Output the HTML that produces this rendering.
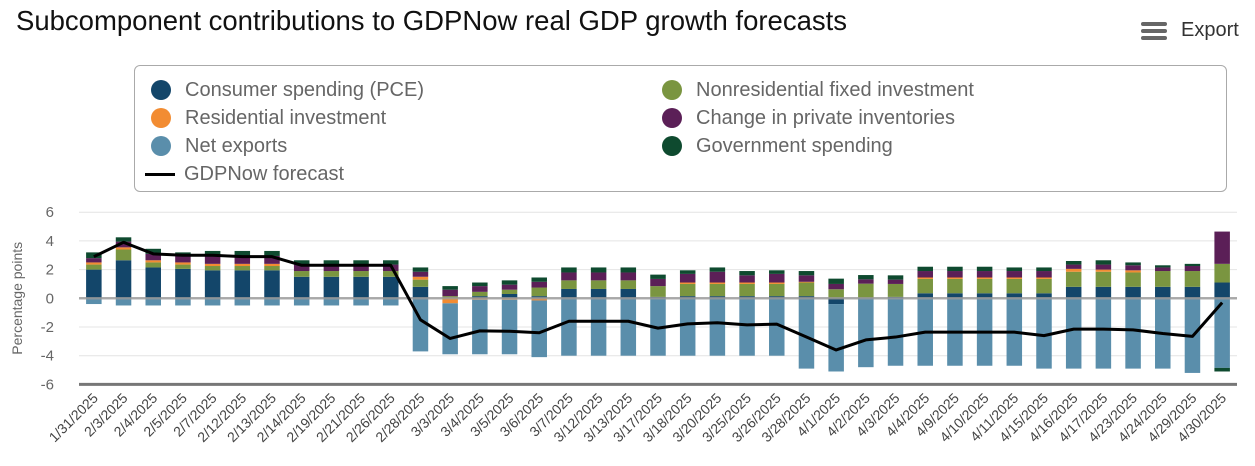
<!DOCTYPE html>
<html><head><meta charset="utf-8">
<style>
body{margin:0;width:1255px;height:466px;background:#fff;font-family:"Liberation Sans",sans-serif;overflow:hidden;position:relative}
#title{position:absolute;left:16px;top:5px;font-size:27.5px;color:#111}
#export{position:absolute;left:1140px;top:19px;font-size:20px;color:#333;display:flex;align-items:center}
#legend{position:absolute;left:134px;top:65px;width:1093px;height:127px;border:1.5px solid #aaa;border-radius:6px;box-sizing:border-box}
.li{position:absolute;font-size:20px;color:#666;display:flex;align-items:center;height:24px}
.dot{width:20px;height:20px;border-radius:50%;margin-right:14px;margin-left:16px}
.ln{width:30px;height:3px;background:#000;margin-right:9px;margin-left:10px}
</style></head><body>
<div id="title">Subcomponent contributions to GDPNow real GDP growth forecasts</div>
<div id="export"><svg width="28" height="22" style="margin-right:13px"><rect x="1" y="2" width="26" height="4" rx="2" fill="#666"/><rect x="1" y="9" width="26" height="4" rx="2" fill="#666"/><rect x="1" y="16" width="26" height="4" rx="2" fill="#666"/></svg>Export</div>
<div id="legend">
<div class="li" style="left:0;top:12px"><span class="dot" style="background:#13466a"></span>Consumer spending (PCE)</div>
<div class="li" style="left:0;top:40px"><span class="dot" style="background:#f28c32"></span>Residential investment</div>
<div class="li" style="left:0;top:68px"><span class="dot" style="background:#5a8eab"></span>Net exports</div>
<div class="li" style="left:0;top:96px"><span class="ln"></span>GDPNow forecast</div>
<div class="li" style="left:511px;top:12px"><span class="dot" style="background:#7a9540"></span>Nonresidential fixed investment</div>
<div class="li" style="left:511px;top:40px"><span class="dot" style="background:#5b1f57"></span>Change in private inventories</div>
<div class="li" style="left:511px;top:68px"><span class="dot" style="background:#0e4a2f"></span>Government spending</div>
</div>
<svg id="chart" width="1255" height="466" style="position:absolute;left:0;top:0"></svg>
<script>
const dates=["1/31/2025","2/3/2025","2/4/2025","2/5/2025","2/7/2025","2/12/2025","2/13/2025","2/14/2025","2/19/2025","2/21/2025","2/26/2025","2/28/2025","3/3/2025","3/4/2025","3/5/2025","3/6/2025","3/7/2025","3/12/2025","3/13/2025","3/17/2025","3/18/2025","3/20/2025","3/25/2025","3/26/2025","3/28/2025","4/1/2025","4/2/2025","4/3/2025","4/4/2025","4/9/2025","4/10/2025","4/11/2025","4/15/2025","4/16/2025","4/17/2025","4/23/2025","4/24/2025","4/29/2025","4/30/2025"];
const pce=[2.0,2.65,2.15,2.05,1.95,1.95,1.95,1.5,1.5,1.5,1.5,0.8,0,0.15,0.3,0.15,0.65,0.65,0.65,0.1,0.15,0.15,0.15,0.15,0.15,-0.4,0.02,0.1,0.35,0.35,0.35,0.35,0.35,0.8,0.8,0.8,0.8,0.8,1.1];
const nonres=[0.35,0.75,0.35,0.3,0.3,0.3,0.3,0.4,0.4,0.4,0.4,0.5,0.15,0.3,0.3,0.6,0.6,0.6,0.6,0.75,0.85,0.85,0.85,0.85,0.95,0.63,1.0,0.9,1.0,1.0,1.0,1.0,1.0,1.05,1.05,1.0,1.1,1.1,1.3];
const res=[0.15,0.15,0.15,0.15,0.15,0.15,0.15,0,0,0,0,0.2,-0.35,-0.1,-0.1,-0.15,0,0,0,0,0.1,0.1,0.1,0.1,0.05,0,0,0,0.1,0.1,0.1,0.1,0.1,0.2,0.15,0.15,0,0,0];
const inv=[0.3,0.4,0.45,0.5,0.55,0.55,0.55,0.45,0.45,0.45,0.45,0.35,0.45,0.4,0.35,0.4,0.55,0.55,0.55,0.5,0.6,0.75,0.5,0.6,0.45,0.37,0.3,0.3,0.45,0.45,0.45,0.45,0.45,0.3,0.35,0.35,0.25,0.35,2.25];
const gov=[0.4,0.3,0.35,0.2,0.35,0.35,0.35,0.3,0.3,0.3,0.3,0.3,0.25,0.25,0.3,0.3,0.35,0.35,0.35,0.3,0.25,0.3,0.3,0.25,0.3,0.37,0.3,0.3,0.3,0.3,0.3,0.25,0.25,0.25,0.3,0.2,0.15,0.15,-0.25];
const netex=[-0.4,-0.5,-0.5,-0.5,-0.5,-0.5,-0.5,-0.5,-0.5,-0.5,-0.5,-3.7,-3.55,-3.8,-3.8,-3.95,-4.0,-4.0,-4.0,-4.0,-4.0,-4.0,-4.0,-4.0,-4.9,-4.7,-4.8,-4.7,-4.7,-4.7,-4.7,-4.7,-4.9,-4.9,-4.9,-4.9,-4.9,-5.2,-4.85];
const gdp=[2.9,3.9,3.1,3.0,3.0,2.9,2.9,2.3,2.3,2.3,2.3,-1.5,-2.8,-2.27,-2.3,-2.4,-1.6,-1.6,-1.6,-2.08,-1.78,-1.7,-1.85,-1.8,-2.7,-3.6,-2.9,-2.7,-2.36,-2.36,-2.36,-2.36,-2.6,-2.15,-2.15,-2.2,-2.45,-2.65,-0.3];
const yTicks=[6,4,2,0,-2,-4,-6];
const svg=document.getElementById('chart');const NS='http://www.w3.org/2000/svg';
const L=79,R=1237,Y0=298.3,PU=14.35;
const y=v=>Y0-v*PU;const step=(R-L)/dates.length;const xc=i=>L+step*(i+0.5);const bw=15.5;
function mk(t,a){const e=document.createElementNS(NS,t);for(const k in a)e.setAttribute(k,a[k]);svg.appendChild(e);return e;}
yTicks.forEach(t=>{
 const g=mk('line',{x1:L,x2:R,y1:y(t),y2:y(t),stroke:t===-6?'#777':'#e4e4e4','stroke-width':t===-6?3:1});
 
 
 const tx=mk('text',{x:54,y:y(t)+5,'text-anchor':'end','font-size':15,fill:'#666','font-family':'Liberation Sans'});tx.textContent=t;
 
 
});
const yt=mk('text',{x:22,y:Y0,'text-anchor':'middle','font-size':14,fill:'#666',transform:`rotate(-90 22 ${Y0})`,'font-family':'Liberation Sans'});yt.textContent='Percentage points';


const series=[["pce",pce,"#13466a"],["nonres",nonres,"#7a9540"],["res",res,"#f28c32"],["inv",inv,"#5b1f57"],["netex",netex,"#5a8eab"],["gov",gov,"#0e4a2f"]];
dates.forEach((d,i)=>{
 let pos=0,neg=0;
 series.forEach(([n,arr,c])=>{const v=arr[i];if(!v)return;let a,b;
  if(v>0){a=pos;b=pos+v;pos=b;}else{a=neg;b=neg+v;neg=b;}
  const r=mk('rect',{x:xc(i)-bw/2,y:y(Math.max(a,b)),width:bw,height:Math.abs(v)*PU,fill:c});
  
  
 });
 const tx=mk('text',{x:xc(i)+5,y:399,'text-anchor':'end','font-size':14,fill:'#444',transform:`rotate(-45 ${xc(i)+5} 399)`,'font-family':'Liberation Sans'});tx.textContent=d;
 
 
});
const z=mk('line',{x1:L,x2:R,y1:Y0,y2:Y0,stroke:'#999','stroke-width':2.5,opacity:0.8});


const pl=mk('polyline',{points:gdp.map((v,i)=>xc(i)+','+y(v)).join(' '),fill:'none',stroke:'#000','stroke-width':3,'stroke-linejoin':'round'});


</script>
</body></html>
